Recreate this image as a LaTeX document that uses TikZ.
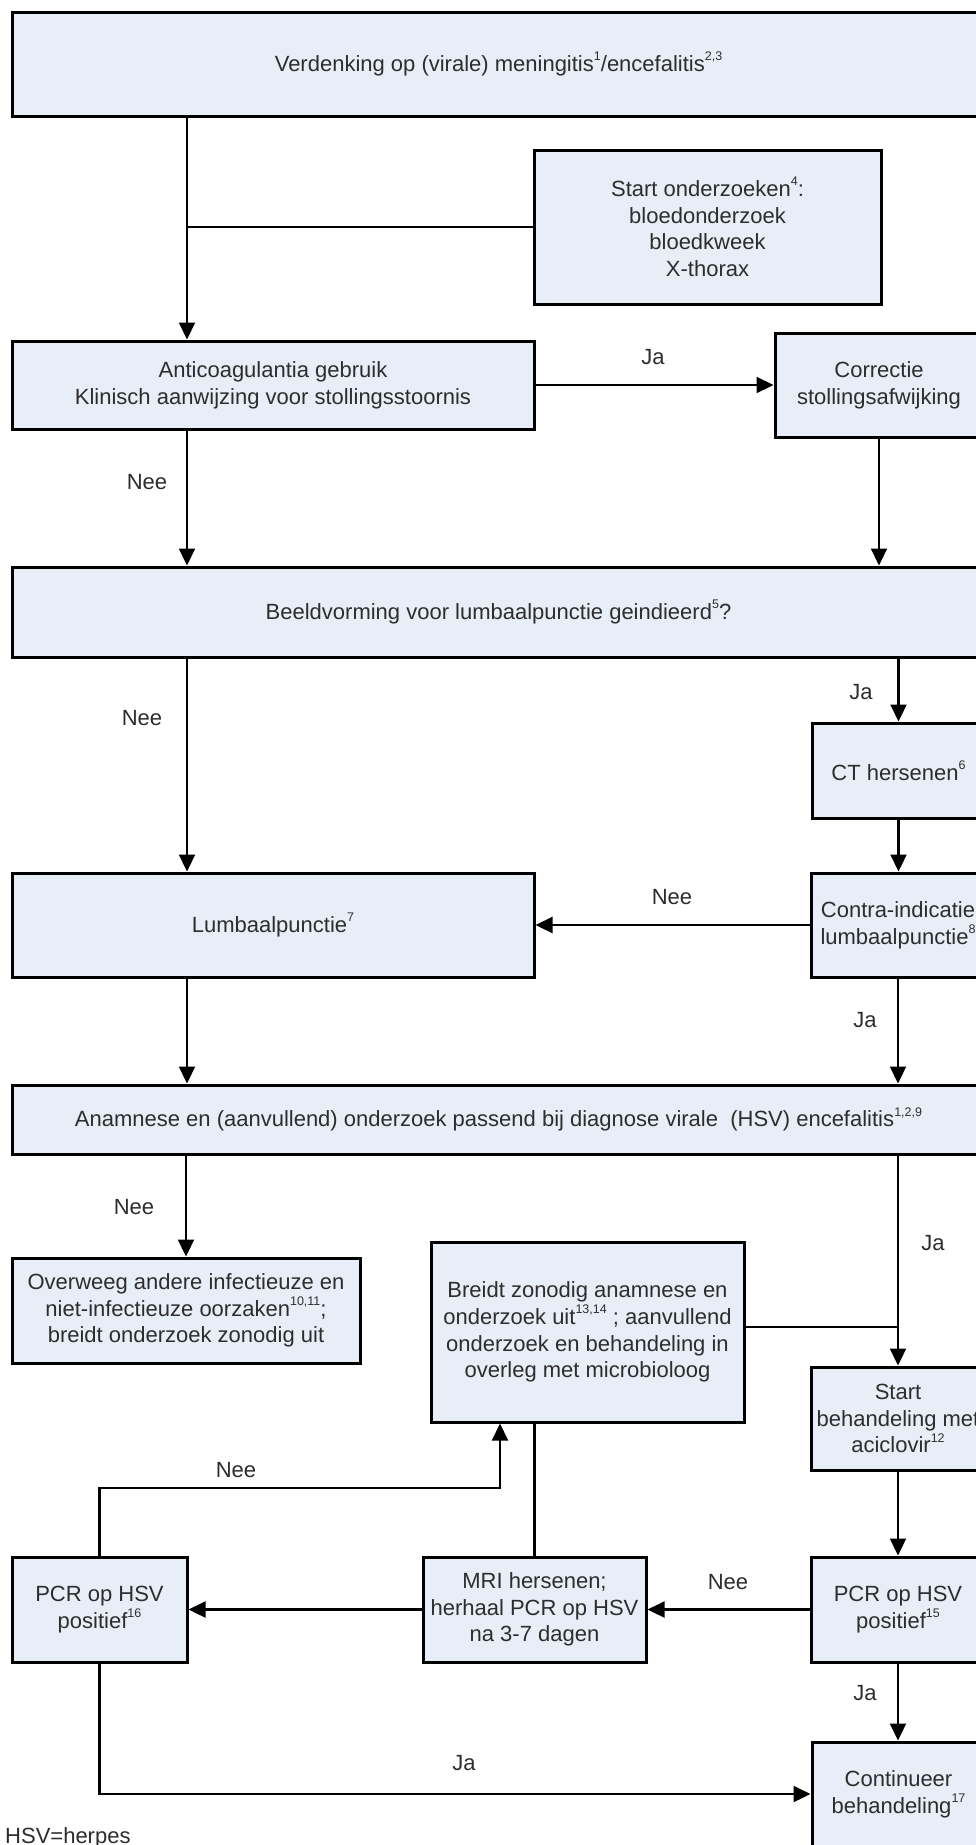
\documentclass[tikz,border=0pt]{standalone}
\usepackage{fontspec}
\setmainfont{Liberation Sans}
\usetikzlibrary{arrows.meta}
\definecolor{boxfill}{RGB}{232,238,247}
\definecolor{txt}{RGB}{45,45,45}
\newcommand{\sups}[1]{\raisebox{10.5pt}{\fontsize{12.5}{12.5}\selectfont #1}}
\begin{document}
\begin{tikzpicture}[x=1pt,y=-1pt,
 box/.style={draw=black, line width=3pt, fill=boxfill, align=center, inner sep=0pt, text=txt, font=\fontsize{22}{26.7}\selectfont},
 conn/.style={line width=2.2pt, draw=black},
 arr/.style={conn, -{Triangle[length=17pt,width=16pt]}},
 lab/.style={text=txt, font=\fontsize{22}{26.7}\selectfont, inner sep=0pt}]
\path[use as bounding box, fill=white] (0,0) rectangle (976,1845);
\clip (0,0) rectangle (976,1845);

\coordinate (xL) at (187,0);

\node[box, minimum width=973pt, minimum height=104pt] (A) at (498.5,64) {Verdenking op (virale) meningitis\sups{1}/encefalitis\sups{2,3}};
\node[box, minimum width=347pt, minimum height=154pt] (B) at (707.5,227) {Start onderzoeken\sups{4}:\\bloedonderzoek\\bloedkweek\\X-thorax};
\node[box, minimum width=522pt, minimum height=88pt] (C) at (273,385) {Anticoagulantia gebruik\\Klinisch aanwijzing voor stollingsstoornis};
\node[box, minimum width=208pt, minimum height=104pt] (D) at (879,385) {Correctie\\stollingsafwijking};
\node[box, minimum width=973pt, minimum height=90pt] (E) at (498.5,612) {Beeldvorming voor lumbaalpunctie geindieerd\sups{5}?};
\node[box, minimum width=173pt, minimum height=95pt] (G) at (898.5,770.5) {CT hersenen\sups{6}};
\node[box, minimum width=522pt, minimum height=104pt] (F) at (273,925) {Lumbaalpunctie\sups{7}};
\node[box, minimum width=174pt, minimum height=104pt] (H) at (898,925) {Contra-indicatie\\lumbaalpunctie\sups{8}};
\node[box, minimum width=973pt, minimum height=69pt] (I) at (498.5,1119.5) {Anamnese en (aanvullend) onderzoek passend bij diagnose virale\ \ (HSV) encefalitis\sups{1,2,9}};
\node[box, minimum width=348pt, minimum height=105pt] (J) at (186,1310.5) {Overweeg andere infectieuze en\\niet-infectieuze oorzaken\sups{10,11};\\breidt onderzoek zonodig uit};
\node[box, minimum width=313pt, minimum height=180pt] (L) at (587.5,1332) {Breidt zonodig anamnese en\\onderzoek uit\sups{13,14} ; aanvullend\\onderzoek en behandeling in\\overleg met microbioloog};
\node[box, minimum width=174pt, minimum height=103pt] (K) at (898,1418.5) {Start\\behandeling met\\aciclovir\sups{12}};
\node[box, minimum width=174pt, minimum height=105pt] (M) at (898,1609.5) {PCR op HSV\\positief\sups{15}};
\node[box, minimum width=223pt, minimum height=105pt] (N) at (534.5,1609.5) {MRI hersenen;\\herhaal PCR op HSV\\na 3-7 dagen};
\node[box, minimum width=175pt, minimum height=105pt] (O) at (99.5,1609.5) {PCR op HSV\\positief\sups{16}};
\node[box, minimum width=173pt, minimum height=104pt] (P) at (898.5,1794) {Continueer\\behandeling\sups{17}};

\node[lab, anchor=base west] (hsv) at (5,1843) {HSV=herpes};

% connectors
\draw[arr] (A.south -| xL) -- (C.north -| xL);
\draw[conn] (B.west) -- (B.west -| xL);
\draw[arr] (C.east) -- (D.west);
\draw[arr] (C.south -| xL) -- (E.north -| xL);
\draw[arr] (D.south) -- (D.south |- E.north);
\draw[arr] (E.south -| xL) -- (F.north -| xL);
\draw[arr] (E.south -| G.north) -- (G.north);
\draw[arr] (G.south) -- (G.south |- H.north);
\draw[arr] (H.west) -- (F.east);
\draw[arr] (F.south -| xL) -- (I.north -| xL);
\draw[arr] (H.south) -- (H.south |- I.north);
\draw[arr] (I.south -| J.north) -- (J.north);
\draw[arr] (I.south -| K.north) -- (K.north);
\draw[conn] ([yshift=5pt]L.east) -- ([yshift=5pt]L.east -| K.north);
\draw[arr] (K.south) -- (M.north);
\draw[arr] (M.west) -- (N.east);
\draw[arr] (N.west) -- (O.east);
\draw[conn] (N.north) -- (N.north |- L.south);
\coordinate (nj) at (500,1488);
\draw[arr] (O.north) |- (nj) -- (nj |- L.south);
\draw[arr] (O.south) |- (P.west);
\draw[arr] (M.south) -- (M.south |- P.north);

% labels
\node[lab] (l1) at (653,357) {Ja};
\node[lab] (l2) at (147,482) {Nee};
\node[lab] (l3) at (142,718) {Nee};
\node[lab] (l4) at (861,692) {Ja};
\node[lab] (l5) at (672,897) {Nee};
\node[lab] (l6) at (865,1020) {Ja};
\node[lab] (l7) at (134,1207) {Nee};
\node[lab] (l8) at (933,1243) {Ja};
\node[lab] (l9) at (236,1470) {Nee};
\node[lab] (l10) at (728,1582) {Nee};
\node[lab] (l11) at (464,1763) {Ja};
\node[lab] (l12) at (865,1693) {Ja};
\end{tikzpicture}
\end{document}
